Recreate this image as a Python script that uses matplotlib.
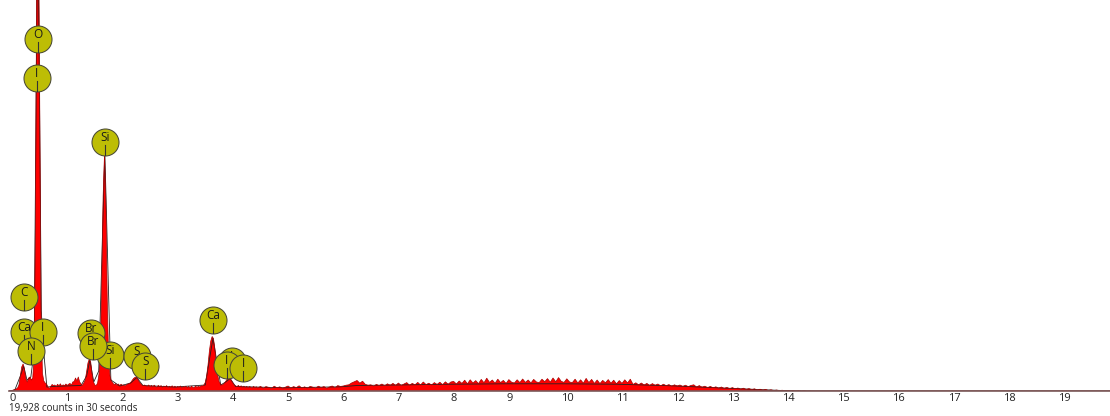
import matplotlib.pyplot as plt
import numpy as np

# EDS spectrum, counts per channel
# 25 eV channels, 0.000 - 4.475 keV (one row = 0.5 keV)
counts_low = [
    0, 0, 5, 10, 15, 20, 30, 60, 150, 240, 270, 220, 120, 90, 130, 140, 110, 130, 350, 1800,
    4600, 5000, 3000, 800, 180, 100, 80, 70, 40, 25, 45, 65, 55, 60, 45, 68, 50, 72, 48, 62,
    52, 70, 56, 68, 76, 58, 90, 95, 130, 100, 140, 90, 70, 56, 80, 110, 190, 280, 320, 290,
    170, 90, 60, 55, 80, 170, 420, 1100, 1950, 2380, 1900, 900, 320, 150, 100, 80, 62, 74, 56, 70,
    54, 68, 56, 60, 50, 64, 70, 75, 85, 105, 125, 135, 140, 120, 95, 75, 62, 54, 60, 52,
    46, 60, 42, 56, 40, 58, 44, 38, 56, 42, 54, 36, 50, 40, 54, 34, 48, 38, 52, 36,
    48, 34, 46, 36, 50, 32, 44, 38, 48, 32, 46, 30, 48, 36, 34, 50, 36, 48, 40, 52,
    50, 60, 85, 150, 260, 400, 500, 545, 520, 420, 280, 160, 95, 70, 60, 65, 80, 100, 120, 130,
    125, 105, 80, 60, 52, 44, 56, 40, 52, 36, 48, 34, 46, 32, 44, 38, 30, 46, 32, 42,
]
# 50 eV channels from 4.50 keV upwards
counts_high = [
    30, 46, 28, 44, 36, 26, 48, 32, 42, 28, 38, 50, 30, 44, 34, 52, 30, 42, 28, 46,
    38, 30, 48, 34, 44, 28, 40, 50, 32, 54, 46,
    50, 58, 62, 80, 92, 105, 78, 98, 66, 58,
    62, 48, 66, 54, 70, 52, 72, 58, 76, 56, 80, 54, 70, 84, 58, 76, 62, 86, 60, 90,
    64, 78, 60, 84, 66, 88, 62, 92, 68, 90,
    96, 70, 100, 76, 108, 72, 112, 80, 104, 74, 116, 82, 128, 86, 110, 78, 118, 84, 106, 76,
    114, 88, 80, 112, 84, 120, 86, 110, 80, 116, 90, 84, 118, 92, 124, 88, 130, 92, 134, 96,
    86, 122, 90, 84, 118, 80, 112, 78, 126, 84, 116, 76, 110, 74, 106, 82, 114, 78, 108, 72,
    104, 76, 112, 80, 118, 66, 82, 62, 80, 60, 76, 56, 74, 58, 70, 52, 68, 54, 64, 48,
    62, 50, 60, 46, 58, 44, 56, 62, 40, 54, 38, 48, 34, 46, 32, 42, 28, 40, 26, 36,
    24, 34, 22, 30, 18, 28, 16, 24, 14, 22, 10, 18, 8, 16, 6, 12, 4, 10, 3, 8,
    2, 6, 1, 4, 0, 3, 0, 2, 0, 1, 0, 0,
]

# fitted curve (black line)
fit_energy = [0, 0.1, 0.2, 0.26, 0.32, 0.39, 0.45, 0.515, 0.58, 0.61, 0.68, 0.8, 1.0, 1.3,
              1.4, 1.46, 1.53, 1.62, 1.73, 1.84, 2.0, 2.2, 2.31, 2.42, 3.0, 3.55, 3.69, 3.83,
              3.92, 4.0, 4.1, 5, 6, 6.3, 7, 8, 9, 10, 11, 12, 13, 14, 14.5, 20]
fit_counts = [0, 10, 150, 250, 110, 140, 400, 5000, 800, 480, 40, 45, 50, 55,
              150, 310, 90, 200, 2400, 110, 50, 80, 135, 55, 40, 60, 530, 60,
              90, 125, 45, 32, 42, 55, 60, 68, 72, 72, 68, 52, 28, 5, 0, 0]

# element markers
marker_labels = ['O', 'I', 'Si', 'C', 'Ca', 'I', 'N', 'Si', 'Br', 'Br', 'S', 'S', 'Ca', 'I', 'I', 'I']
marker_energy = [0.518, 0.50, 1.736, 0.264, 0.264, 0.609, 0.391, 1.827, 1.476, 1.524,
                 2.313, 2.464, 3.695, 4.027, 3.936, 4.236]
marker_height = [3525, 3130, 2495, 940, 590, 595, 400, 360, 580, 450,
                 350, 250, 710, 300, 265, 235]

energy_low = np.arange(len(counts_low)) * 0.025
energy_high = 4.5 + np.arange(len(counts_high)) * 0.05
energy = np.concatenate([energy_low, energy_high, [20.0]])
counts = np.concatenate([counts_low, counts_high, [0]])

W, H = 1110, 416
fig = plt.figure(figsize=(W / 100, H / 100), dpi=100)
ax = fig.add_axes([9.3 / W, 25 / H, 1 - 9.3 / W, 391 / H])

ax.fill_between(energy, counts, color='#ff0000', lw=0, zorder=2)
ax.plot(fit_energy, fit_counts, color='#222222', lw=0.6, zorder=2.5)
ax.plot(energy, counts, color='#a80000', lw=0.5, zorder=3)

for i, (lab, e, h) in enumerate(zip(marker_labels, marker_energy, marker_height)):
    z = 10 + i
    ax.scatter([e], [h], s=378, color='#bdbd05', edgecolors='#4a4a35', linewidths=0.75,
               zorder=z, clip_on=False)
    ax.plot([e, e], [h - 30, h - 133], color='#333333', lw=0.8, zorder=z + 0.2)
    ax.annotate(lab, (e, h), xytext=(0, 3.0), textcoords='offset points', ha='center',
                va='center', fontsize=8.5, family='Open Sans', color='#1a1a1a', zorder=z + 0.3)

ax.set_xlim(0, (W - 9.3) / 55.2)
ax.set_ylim(0, 3910)
ax.set_xticks(range(20))
ax.set_xticklabels([str(t) for t in range(20)], ha='left', fontsize=8, family='Open Sans',
                   color='#222222')
ax.tick_params(axis='x', length=0, pad=1.2)
ax.set_yticks([])
for s in ['left', 'right', 'top']:
    ax.spines[s].set_visible(False)
ax.spines['bottom'].set_color('#7a5a5a')
ax.spines['bottom'].set_linewidth(1.2)
ax.spines['bottom'].set_zorder(5)

fig.text(9 / W, 7 / H, '19,928 counts in 30 seconds', fontsize=7, family='Open Sans',
         color='#222222', va='center', ha='left')

fig.savefig('out.png', dpi=100)
